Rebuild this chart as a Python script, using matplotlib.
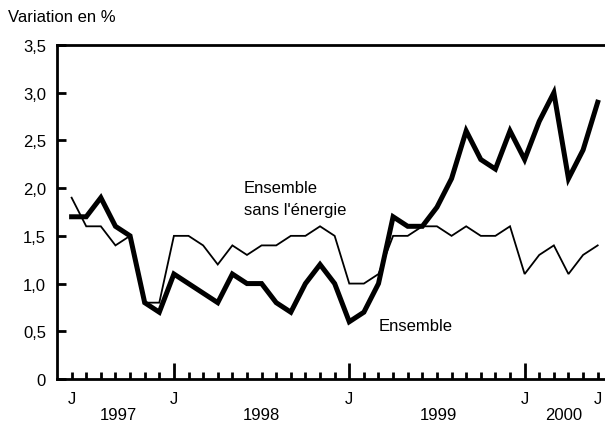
import numpy as np
import matplotlib
matplotlib.use("Agg")
import matplotlib.pyplot as plt

plt.rcParams['font.family'] = ['Liberation Sans', 'DejaVu Sans']

# monthly values, June 1997 -> June 2000
ensemble = [1.7, 1.7, 1.9, 1.6, 1.5, 0.8, 0.7,
            1.1, 1.0, 0.9, 0.8, 1.1, 1.0, 1.0, 0.8, 0.7, 1.0, 1.2, 1.0,
            0.6, 0.7, 1.0, 1.7, 1.6, 1.6, 1.8, 2.1, 2.6, 2.3, 2.2, 2.6,
            2.3, 2.7, 3.0, 2.1, 2.4, 2.9]
sans_energie = [1.9, 1.6, 1.6, 1.4, 1.5, 0.8, 0.8,
                1.5, 1.5, 1.4, 1.2, 1.4, 1.3, 1.4, 1.4, 1.5, 1.5, 1.6, 1.5,
                1.0, 1.0, 1.1, 1.5, 1.5, 1.6, 1.6, 1.5, 1.6, 1.5, 1.5, 1.6,
                1.1, 1.3, 1.4, 1.1, 1.3, 1.4]

month_labels = {0: 'J', 7: 'J', 19: 'J', 31: 'J', 36: 'J'}
year_labels = [('1997', 3.2), ('1998', 13.0), ('1999', 25.1), ('2000', 33.7)]
yticks = [0, 0.5, 1.0, 1.5, 2.0, 2.5, 3.0, 3.5]
ytick_labels = ['0', '0,5', '1,0', '1,5', '2,0', '2,5', '3,0', '3,5']

x = np.arange(len(ensemble))
fs = 12

fig = plt.figure(figsize=(6.05, 4.27), dpi=100)
ax = fig.add_axes([57 / 605, 1 - 380 / 427, 1 - 57 / 605, (380 - 46) / 427])

ax.plot(x, sans_energie, color='black', lw=1.3, solid_joinstyle='miter')
ax.plot(x, ensemble, color='black', lw=3.6, solid_joinstyle='miter')

ax.set_xlim(-1, 36.5)
ax.set_ylim(0, 3.5)

for s in ['left', 'top', 'bottom']:
    ax.spines[s].set_linewidth(2.0)
ax.spines['right'].set_visible(False)

ax.set_yticks(yticks)
ax.set_yticklabels(ytick_labels, fontsize=fs)
ax.tick_params(axis='y', direction='in', length=6.5, width=2, pad=8)

major = [7, 19, 31]
minor = [i for i in x if i not in major]
ax.set_xticks(major)
ax.set_xticks(minor, minor=True)
ax.set_xticklabels([])
ax.tick_params(axis='x', which='major', direction='in', length=11.5, width=2)
ax.tick_params(axis='x', which='minor', direction='in', length=5, width=2)

for pos, lab in month_labels.items():
    ax.text(pos, -0.2, lab, ha='center', va='center', fontsize=fs)
for lab, pos in year_labels:
    ax.text(pos, -0.37, lab, ha='center', va='center', fontsize=fs)

ax.text(11.8, 1.70, "Ensemble\nsans l'énergie", ha='left', va='bottom',
        fontsize=fs, linespacing=1.55)
ax.text(21.0, 0.56, "Ensemble", ha='left', va='center', fontsize=fs)

fig.text(8 / 605, 1 - 18 / 427, "Variation en %", ha='left', va='center', fontsize=fs)

fig.savefig("out.png", dpi=100)
